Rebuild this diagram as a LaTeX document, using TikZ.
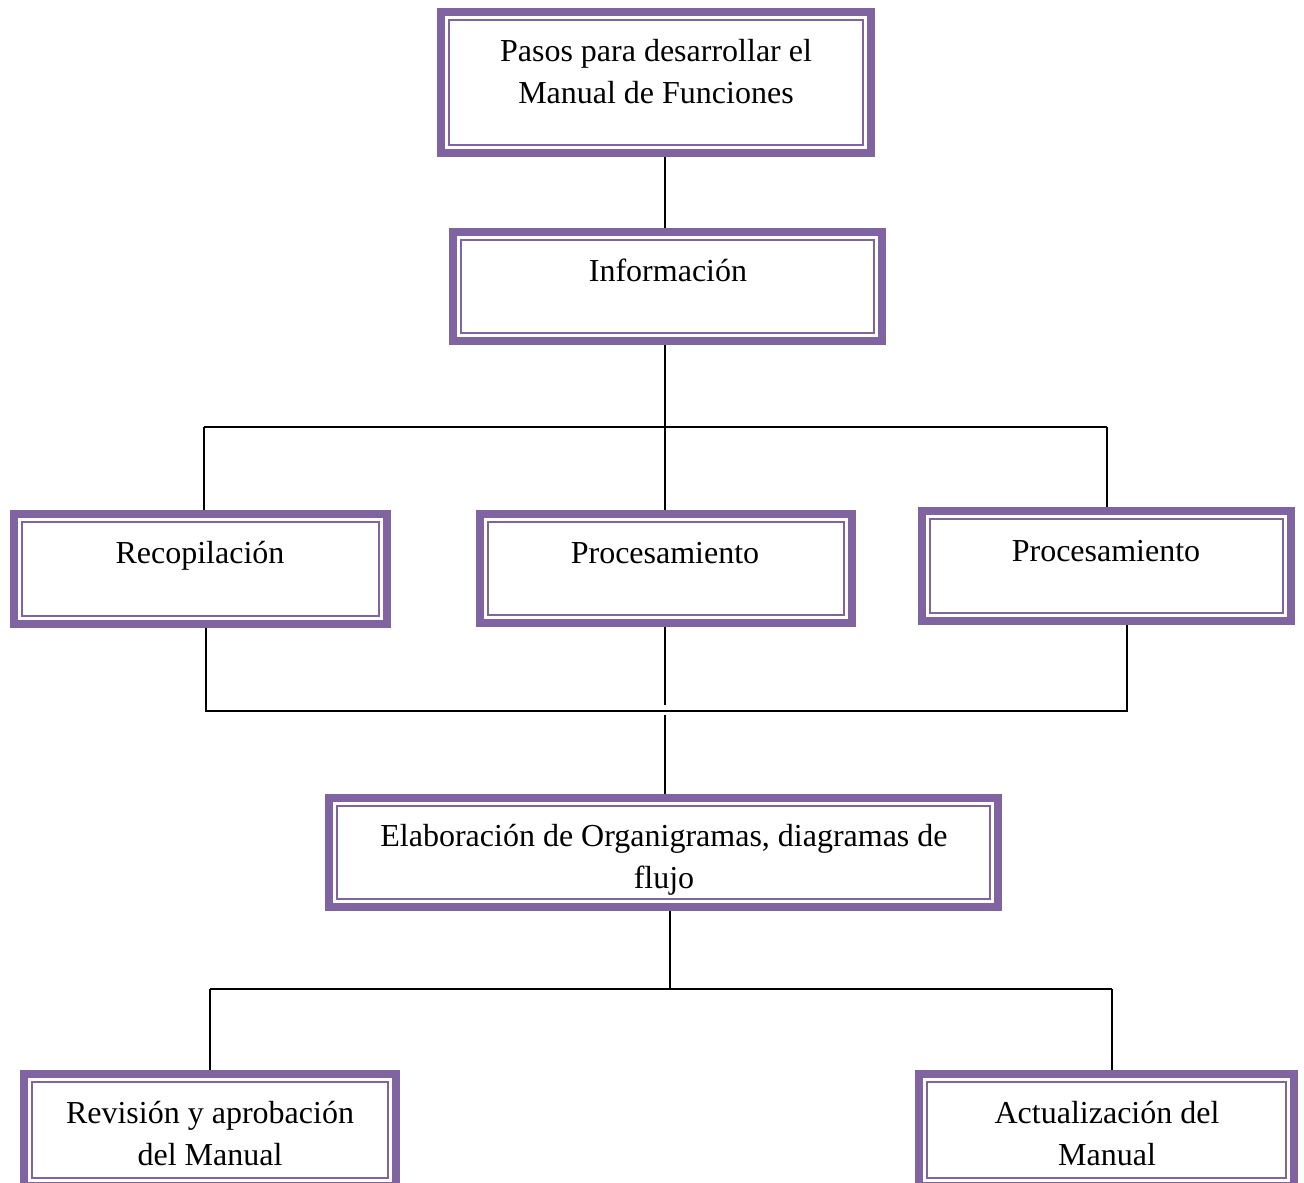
\documentclass[tikz,border=0pt]{standalone}
\usepackage{fontspec}
\setmainfont{Liberation Serif}
\usetikzlibrary{fit,calc}
\definecolor{boxpurple}{HTML}{8064A2}
\begin{document}
\begin{tikzpicture}[x=0.5pt,y=-0.5pt,
  box/.style={draw=boxpurple, line width=4pt, fill=white, inner sep=0pt, rectangle},
  innerline/.style={draw=boxpurple, line width=1pt},
  lbl/.style={font=\fontsize{16}{21}\selectfont, align=center, inner sep=0pt, anchor=base},
  conn/.style={draw=black, line width=1pt}]
\useasboundingbox (0,0) rectangle (1304,1182);
\fill[white] (0,0) rectangle (1304,1182);
\clip (0,0) rectangle (1304,1182);

% junction points of the connector buses
\coordinate (j1) at (665,427);
\coordinate (b1l) at (204,427);
\coordinate (b1r) at (1107,427);
\coordinate (b2l) at (206,711);
\coordinate (b2r) at (1127,711);
\coordinate (m2a) at (665,705);
\coordinate (m2b) at (665,715);
\coordinate (j3) at (670,989);
\coordinate (b3l) at (210,989);
\coordinate (b3r) at (1112,989);

% boxes (outer edge of the thick frame given by the fit points + 4)
\node[box, fit={(441,12) (871,153)}] (top) {};
\node[box, fit={(453,232) (882,341)}] (info) {};
\node[box, fit={(14,514) (387,624)}] (recop) {};
\node[box, fit={(480,514) (852,623)}] (proc1) {};
\node[box, fit={(922,511) (1291,621)}] (proc2) {};
\node[box, fit={(329,798) (998,907)}] (elab) {};
\node[box, fit={(24,1074) (396,1186)}] (rev) {};
\node[box, fit={(919,1074) (1294,1186)}] (act) {};

% thin inner frames
\foreach \n in {top,info,recop,proc1,proc2,elab,rev,act}
  \draw[innerline] ([shift={(12,12)}]\n.north west) rectangle ([shift={(-12,-12)}]\n.south east);

% labels (base anchor = baseline of the last line)
\node[lbl] (top-t) at (656,104) {Pasos para desarrollar el\\Manual de Funciones};
\node[lbl] (info-t) at (668,281) {Información};
\node[lbl] (recop-t) at (200,563) {Recopilación};
\node[lbl] (proc1-t) at (665,563) {Procesamiento};
\node[lbl] (proc2-t) at (1106,561) {Procesamiento};
\node[lbl] (elab-t) at (664,888) {Elaboración de Organigramas, diagramas de\\flujo};
\node[lbl] (rev-t) at (210,1165) {Revisión y aprobación\\del Manual};
\node[lbl] (act-t) at (1107,1165) {Actualización del\\Manual};

% connectors
\draw[conn] (top.south -| j1) -- (info.north -| j1);
\draw[conn] (info.south -| j1) -- (j1);
\draw[conn] (b1l) -- (b1r);
\draw[conn] (b1l) -- (recop.north -| b1l);
\draw[conn] (j1) -- (proc1.north -| j1);
\draw[conn] (b1r) -- (proc2.north -| b1r);
\draw[conn] (recop.south -| b2l) -- (b2l) -- (b2r) -- (proc2.south -| b2r);
\draw[conn] (proc1.south -| m2a) -- (m2a);
\draw[conn] (m2b) -- (elab.north -| m2b);
\draw[conn] (elab.south -| j3) -- (j3);
\draw[conn] (b3l) -- (b3r);
\draw[conn] (b3l) -- (rev.north -| b3l);
\draw[conn] (b3r) -- (act.north -| b3r);
\end{tikzpicture}
\end{document}
